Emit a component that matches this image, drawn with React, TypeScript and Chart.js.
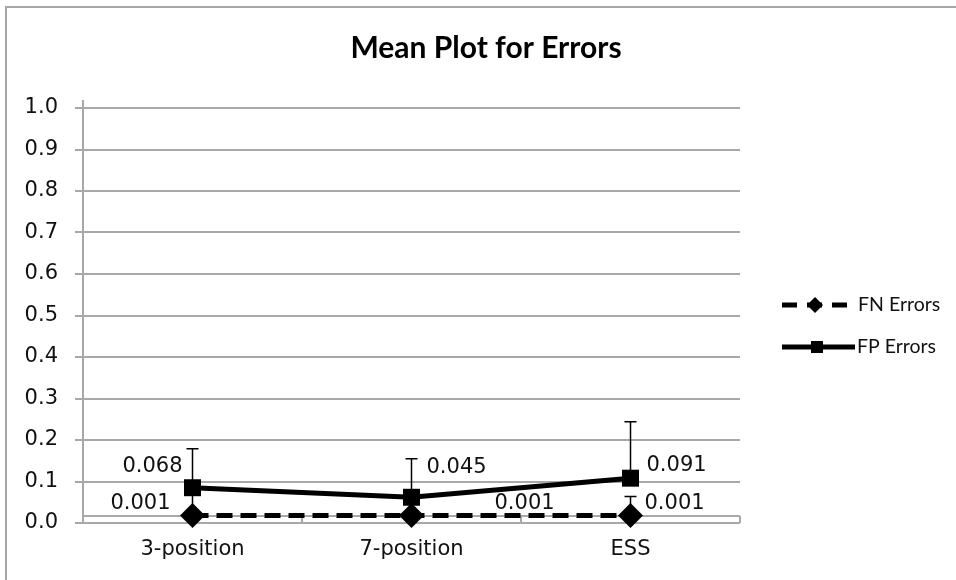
import React, { useEffect, useRef } from 'react';
import { Chart, registerables } from 'chart.js';

Chart.register(...registerables);

// ---- data ----
const categories = ['3-position', '7-position', 'ESS'];
const seriesNames = ['FN Errors', 'FP Errors'];
const chartTitle = 'Mean Plot for Errors';
const fnMeans = [0.001, 0.001, 0.001];
const fpMeans = [0.068, 0.045, 0.091];
const fnErrUp = [0.055, 0.04, 0.046];
const fpErrUp = [0.094, 0.093, 0.136];
const fnLabels = ['0.001', '0.001', '0.001'];
const fpLabels = ['0.068', '0.045', '0.091'];
const yTickLabels = ['0.0', '0.1', '0.2', '0.3', '0.4', '0.5', '0.6', '0.7', '0.8', '0.9', '1.0'];
const Y_MIN = -0.017;
const Y_STEP = 0.1;
const Y_MAX = Y_MIN + (yTickLabels.length - 1) * Y_STEP;

// ---- styles ----
const GRID = '#a8a8a8';
const TEXT = '#111111';
const TICK_FONT = 'DejaVu Sans';
const LEGEND_FONT = 'Lato';

// label placement: [dx, dy, align]
const fnLabelPlace: [number, number, CanvasTextAlign][] = [
  [-22, -12, 'right'],
  [83, -12, 'left'],
  [14, -12, 'left'],
];
const fpLabelPlace: [number, number, CanvasTextAlign][] = [
  [-10, -21, 'right'],
  [15, -30, 'left'],
  [16, -13, 'left'],
];

const customPlugin = {
  id: 'customDecor',
  beforeDraw(chart: any) {
    const ctx = chart.ctx;
    ctx.save();
    ctx.fillStyle = '#ffffff';
    ctx.fillRect(0, 0, chart.width, chart.height);
    ctx.strokeStyle = '#a6a6a6';
    ctx.lineWidth = 2;
    ctx.beginPath();
    ctx.moveTo(6, chart.height);
    ctx.lineTo(6, 7);
    ctx.lineTo(chart.width, 7);
    ctx.stroke();
    // title
    ctx.font = `bold 30px "Lato"`;
    ctx.fillStyle = '#000';
    ctx.textAlign = 'center';
    ctx.textBaseline = 'middle';
    ctx.fillText(chartTitle, 486, 48);
    ctx.restore();
  },
  beforeDatasetsDraw(chart: any) {
    const { ctx, chartArea } = chart;
    const x = chart.scales.x;
    const y = chart.scales.y;
    ctx.save();
    // axis crossing line at value 0
    const y0 = y.getPixelForValue(0);
    ctx.strokeStyle = GRID;
    ctx.lineWidth = 2;
    ctx.beginPath();
    ctx.moveTo(chartArea.left, y0);
    ctx.lineTo(chartArea.right, y0);
    // category boundary ticks
    const n = categories.length;
    for (let i = 1; i <= n; i++) {
      const bx = chartArea.left + ((chartArea.right - chartArea.left) * i) / n;
      ctx.moveTo(bx, y0);
      ctx.lineTo(bx, chartArea.bottom);
    }
    // y-axis extension above top
    ctx.moveTo(chartArea.left, chartArea.top - 8);
    ctx.lineTo(chartArea.left, chartArea.top);
    ctx.stroke();

    // error bars
    ctx.strokeStyle = '#000';
    ctx.lineWidth = 1.5;
    const drawErr = (means: number[], errs: number[]) => {
      means.forEach((m, i) => {
        const px = x.getPixelForValue(i);
        const py = y.getPixelForValue(m);
        const pt = y.getPixelForValue(m + errs[i]);
        ctx.beginPath();
        ctx.moveTo(px, py);
        ctx.lineTo(px, pt);
        ctx.moveTo(px - 6, pt);
        ctx.lineTo(px + 6, pt);
        ctx.stroke();
      });
    };
    drawErr(fnMeans, fnErrUp);
    drawErr(fpMeans, fpErrUp);
    ctx.restore();
  },
  afterDatasetsDraw(chart: any) {
    const { ctx } = chart;
    const x = chart.scales.x;
    const y = chart.scales.y;
    ctx.save();
    ctx.font = `21px "${TICK_FONT}"`;
    ctx.fillStyle = TEXT;
    ctx.textBaseline = 'middle';
    const drawLabels = (means: number[], labels: string[], place: [number, number, CanvasTextAlign][]) => {
      means.forEach((m, i) => {
        const px = x.getPixelForValue(i);
        const py = y.getPixelForValue(m);
        const [dx, dy, al] = place[i];
        ctx.textAlign = al;
        ctx.fillText(labels[i], px + dx, py + dy);
      });
    };
    drawLabels(fnMeans, fnLabels, fnLabelPlace);
    drawLabels(fpMeans, fpLabels, fpLabelPlace);
    ctx.restore();
  },
  afterDraw(chart: any) {
    const { ctx, chartArea } = chart;
    const lx = chartArea.right + 42;
    const ys = [305, 347];
    ctx.save();
    ctx.strokeStyle = '#000';
    ctx.fillStyle = '#000';
    ctx.lineWidth = 5;
    // FN entry
    ctx.setLineDash([15, 10]);
    ctx.beginPath();
    ctx.moveTo(lx, ys[0]);
    ctx.lineTo(lx + 65, ys[0]);
    ctx.stroke();
    ctx.setLineDash([]);
    const dcx = lx + 33;
    const r = 8;
    ctx.beginPath();
    ctx.moveTo(dcx - r, ys[0]);
    ctx.lineTo(dcx, ys[0] - r);
    ctx.lineTo(dcx + r, ys[0]);
    ctx.lineTo(dcx, ys[0] + r);
    ctx.closePath();
    ctx.fill();
    // FP entry
    ctx.beginPath();
    ctx.moveTo(lx, ys[1]);
    ctx.lineTo(lx + 73, ys[1]);
    ctx.stroke();
    ctx.fillRect(lx + 35 - 6, ys[1] - 6, 12, 12);
    // texts
    ctx.font = `19.5px "${LEGEND_FONT}"`;
    ctx.fillStyle = TEXT;
    ctx.textAlign = 'left';
    ctx.textBaseline = 'middle';
    ctx.fillText(seriesNames[0], lx + 76, ys[0]);
    ctx.fillText(seriesNames[1], lx + 75, ys[1]);
    ctx.restore();
  },
};

export default function App() {
  const ref = useRef<HTMLCanvasElement | null>(null);
  useEffect(() => {
    if (!ref.current) return;
    const chart = new Chart(ref.current, {
      type: 'line',
      data: {
        labels: categories,
        datasets: [
          {
            label: seriesNames[0],
            data: fnMeans,
            borderColor: '#000',
            backgroundColor: '#000',
            borderWidth: 5,
            borderDash: [16, 8],
            pointStyle: 'rectRot',
            pointRadius: 12.5,
            pointBackgroundColor: '#000',
            pointBorderColor: '#000',
            pointBorderWidth: 0,
            tension: 0,
            clip: false,
          },
          {
            label: seriesNames[1],
            data: fpMeans,
            borderColor: '#000',
            backgroundColor: '#000',
            borderWidth: 5,
            pointStyle: 'rect',
            pointRadius: 12,
            pointBackgroundColor: '#000',
            pointBorderColor: '#000',
            pointBorderWidth: 0,
            tension: 0,
            clip: false,
          },
        ],
      },
      options: {
        animation: false,
        responsive: false,
        devicePixelRatio: 1,
        layout: { padding: { left: 0, right: 216, top: 108, bottom: 0 } },
        plugins: {
          legend: { display: false },
          tooltip: { enabled: false },
          title: { display: false },
        },
        scales: {
          x: {
            type: 'category',
            offset: true,
            grid: { display: false, drawTicks: false },
            border: { display: false },
            ticks: {
              font: { family: TICK_FONT, size: 21 },
              color: TEXT,
              padding: 14,
              maxRotation: 0,
              autoSkip: false,
            },
            afterFit: (s: any) => {
              s.height = 57;
            },
          },
          y: {
            type: 'linear',
            min: Y_MIN,
            max: Y_MAX,
            afterBuildTicks: (s: any) => {
              s.ticks = yTickLabels.map((_, i) => ({ value: Y_MIN + i * Y_STEP }));
            },
            ticks: {
              callback: (_v: any, i: number) => yTickLabels[i],
              font: { family: TICK_FONT, size: 21 },
              color: TEXT,
              padding: 17,
            },
            grid: { color: GRID, lineWidth: 2, tickLength: 8, drawTicks: true },
            border: { display: true, color: GRID, width: 2 },
            afterFit: (s: any) => {
              s.width = 83;
            },
          },
        },
      },
      plugins: [customPlugin],
    } as any);
    return () => chart.destroy();
  }, []);
  return (
    <div style={{ position: 'absolute', left: 0, top: 0, width: 956, height: 580 }}>
      <canvas ref={ref} width={956} height={580} style={{ display: 'block' }} />
    </div>
  );
}
